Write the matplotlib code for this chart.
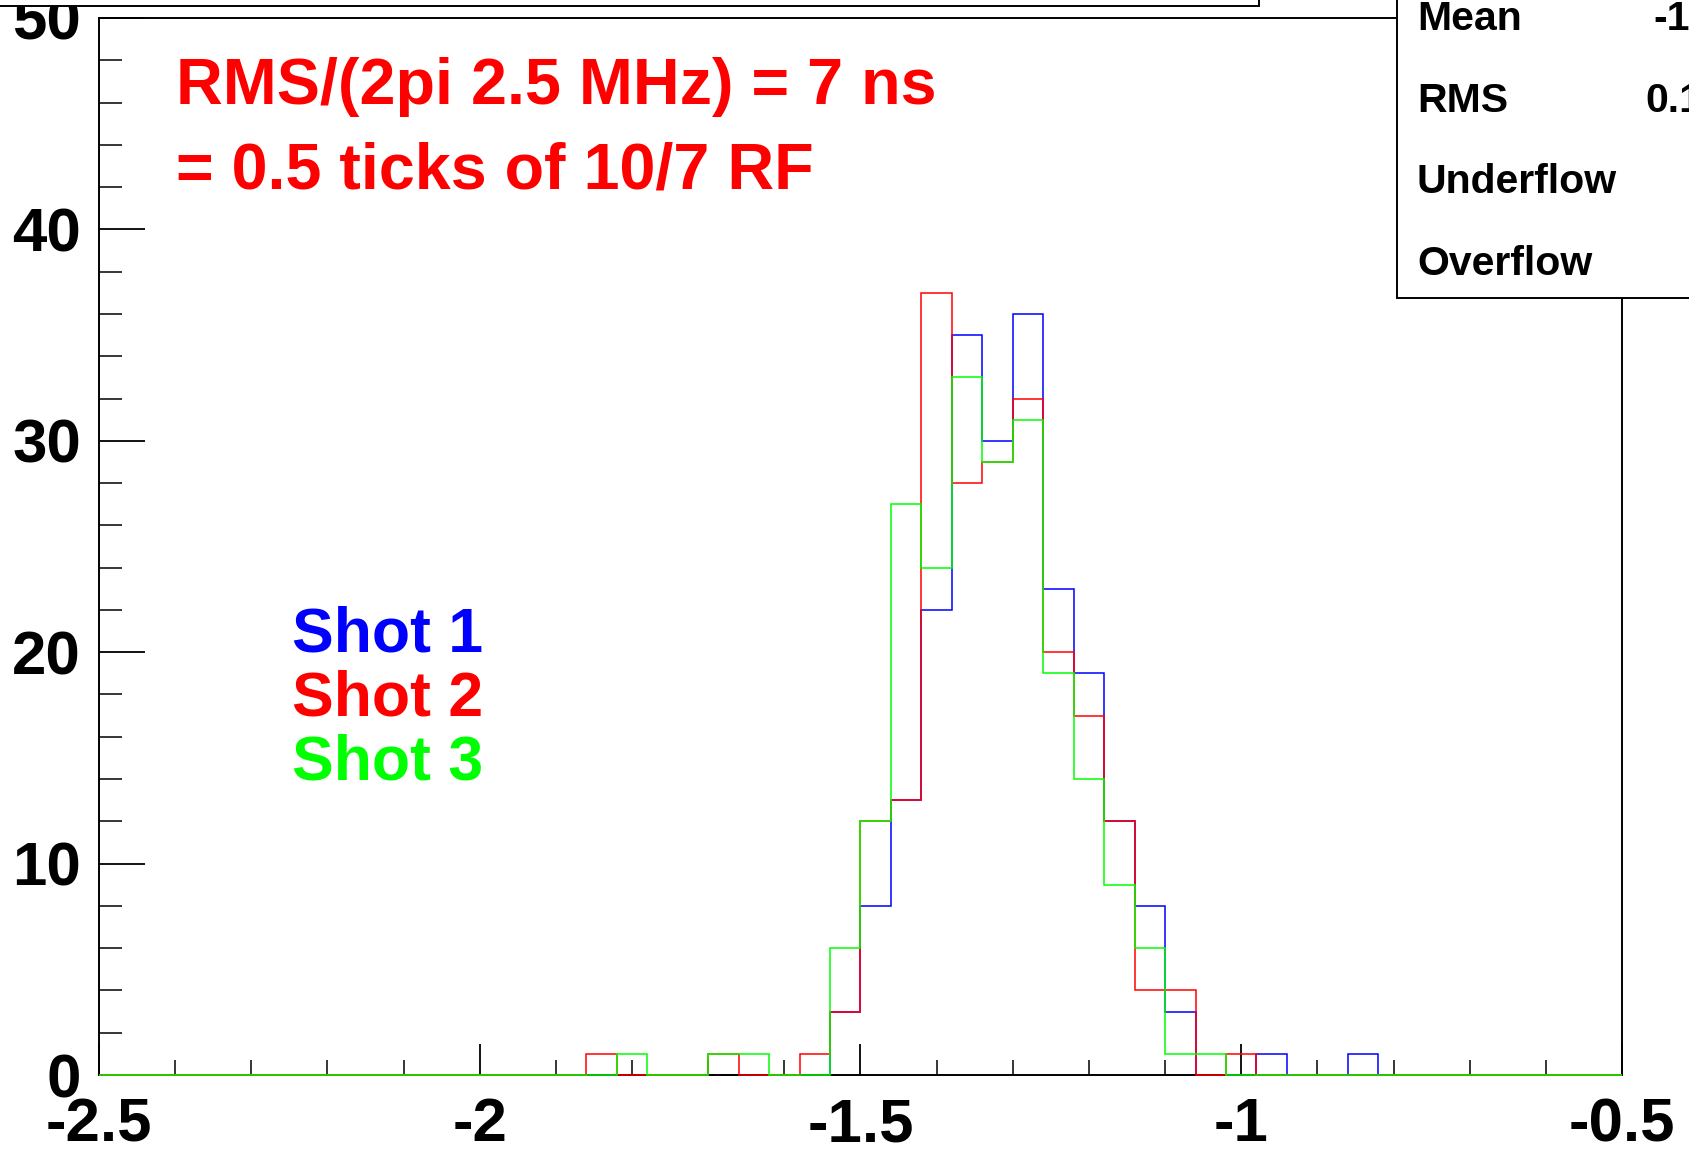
import numpy as np
import matplotlib
matplotlib.use("Agg")
import matplotlib.pyplot as plt
from matplotlib.patches import Rectangle

plt.rcParams['font.family'] = ['Liberation Sans', 'DejaVu Sans']
plt.rcParams['font.weight'] = 'bold'

# 50 bins from -2.5 to -0.5
x_min, x_max, n_bins = -2.5, -0.5, 50

shot1 = [0, 0, 0, 0, 0, 0, 0, 0, 0, 0,
         0, 0, 0, 0, 0, 0, 0, 0, 0, 0,
         0, 0, 0, 0, 3, 8, 13, 22, 35, 30,
         36, 23, 19, 12, 8, 3, 0, 0, 1, 0,
         0, 1, 0, 0, 0, 0, 0, 0, 0, 0]
shot2 = [0, 0, 0, 0, 0, 0, 0, 0, 0, 0,
         0, 0, 0, 0, 0, 0, 1, 0, 0, 0,
         1, 0, 0, 1, 3, 12, 13, 37, 28, 29,
         32, 20, 17, 12, 4, 4, 0, 1, 0, 0,
         0, 0, 0, 0, 0, 0, 0, 0, 0, 0]
shot3 = [0, 0, 0, 0, 0, 0, 0, 0, 0, 0,
         0, 0, 0, 0, 0, 0, 0, 1, 0, 0,
         1, 1, 0, 0, 6, 12, 27, 24, 33, 29,
         31, 19, 14, 9, 6, 1, 1, 0, 0, 0,
         0, 0, 0, 0, 0, 0, 0, 0, 0, 0]

labels = ["Shot 1", "Shot 2", "Shot 3"]
colors = ["#0000ff", "#ff0000", "#00ff00"]

stat_names = ["Mean", "RMS", "Underflow", "Overflow"]
stat_values = ["-1", "0.1", "", ""]

edges = np.linspace(x_min, x_max, n_bins + 1)

W, H = 1690, 1152
fig = plt.figure(figsize=(W / 100, H / 100), dpi=100)
ax = fig.add_axes([99 / W, 1 - 1075 / H, (1622 - 99) / W, (1075 - 18) / H])

# first histogram drawn under the frame, the "same" ones on top of it
ax.stairs(shot1, edges, color=colors[0], lw=1.1, zorder=2, clip_on=False)
ax.stairs(shot2, edges, color=colors[1], lw=1.1, zorder=3, clip_on=False)
ax.stairs(shot3, edges, color=colors[2], lw=1.1, zorder=4, clip_on=False)

ax.set_xlim(x_min, x_max)
ax.set_ylim(0, 50)
ax.set_xticks(np.arange(-2.5, -0.49, 0.5))
ax.set_xticklabels(["-2.5", "-2", "-1.5", "-1", "-0.5"])
ax.set_xticks(np.arange(-2.5, -0.49, 0.1), minor=True)
ax.set_yticks(np.arange(0, 51, 10))
ax.set_yticks(np.arange(0, 51, 2), minor=True)

for s in ax.spines.values():
    s.set_linewidth(1.4)
    s.set_zorder(2.5)

ax.tick_params(axis='x', which='major', direction='in', length=22, width=1.3,
               labelsize=44.5, pad=16, top=False)
ax.tick_params(axis='x', which='minor', direction='in', length=11, width=1.1, top=False)
ax.tick_params(axis='y', which='major', direction='in', length=33, width=1.3,
               labelsize=44.5, pad=13, right=False)
ax.tick_params(axis='y', which='minor', direction='in', length=16.5, width=1.1, right=False)

# annotation text
ax.text(176 / W, 1 - 104 / H, "RMS/(2pi 2.5 MHz) = 7 ns", transform=fig.transFigure,
        color="#ff0000", fontsize=46.5, fontweight='bold', va='baseline')
ax.text(176 / W, 1 - 189 / H, "= 0.5 ticks of 10/7 RF", transform=fig.transFigure,
        color="#ff0000", fontsize=46.5, fontweight='bold', va='baseline')

for i, (lab, col) in enumerate(zip(labels, colors)):
    ax.text(292 / W, 1 - (652 + 64 * i) / H, lab, transform=fig.transFigure,
            color=col, fontsize=45, fontweight='bold', va='baseline')

# title box (mostly off the page) and stats box
fig.add_artist(Rectangle((-0.05, 1 - 6 / H), 0.05 + 1259 / W, 0.1,
                         transform=fig.transFigure, facecolor='white',
                         edgecolor='black', lw=1.4, zorder=5))
fig.add_artist(Rectangle((1397 / W, 1 - 298 / H), 0.3, 0.4,
                         transform=fig.transFigure, facecolor='white',
                         edgecolor='black', lw=1.4, zorder=5))
for i, (nm, val) in enumerate(zip(stat_names, stat_values)):
    yb = 1 - (30 + 81.7 * i) / H
    fig.text(1417 / W, yb, nm, fontsize=29.5, fontweight='bold', va='baseline', zorder=6)
    if val:
        xv = 1653 if val.startswith("-") else 1645
        fig.text(xv / W, yb, val, fontsize=29.5, fontweight='bold', va='baseline', zorder=6)

fig.savefig("out.png", dpi=100)
